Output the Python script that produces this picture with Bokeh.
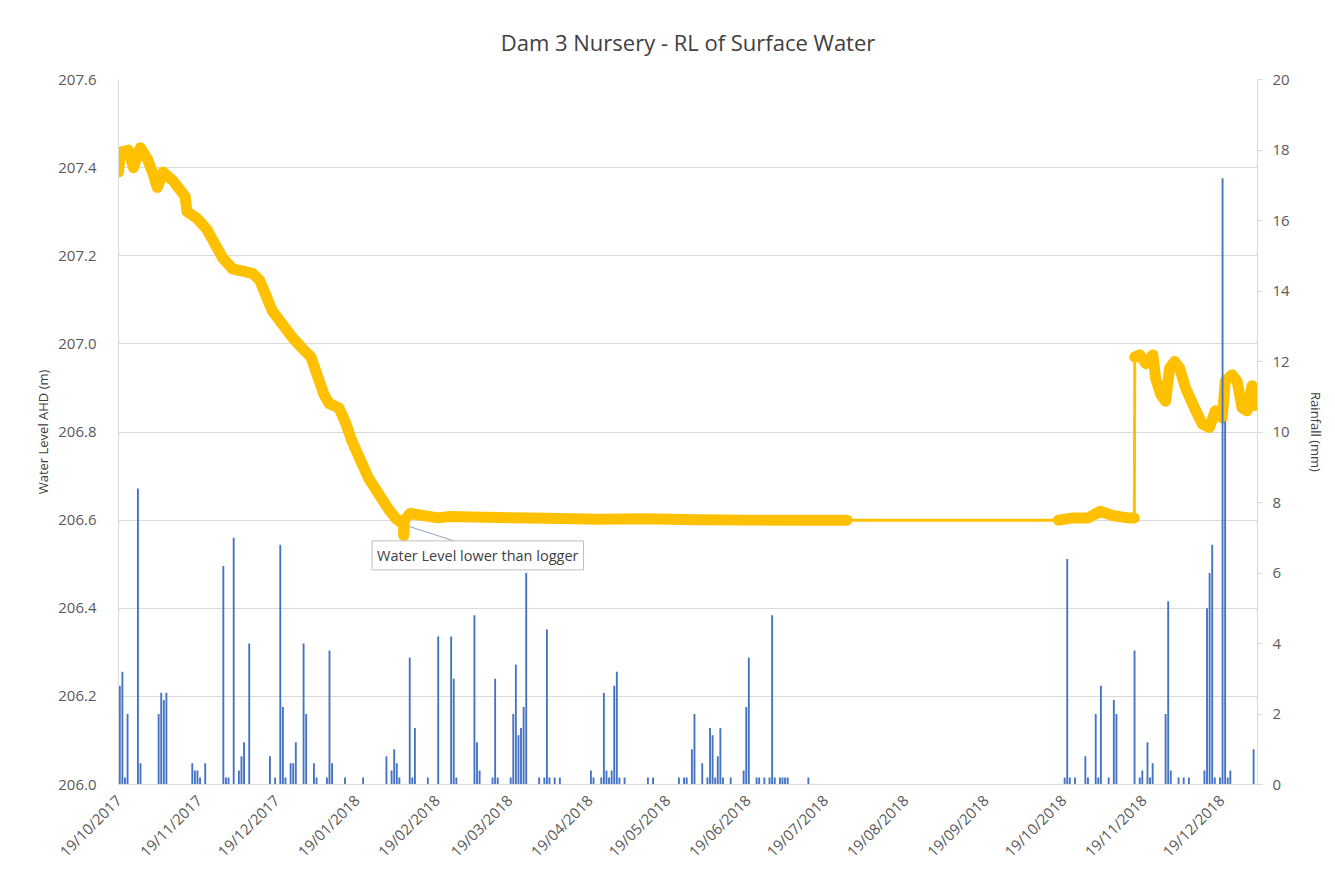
import math
import pandas as pd
from bokeh.plotting import figure
from bokeh.models import (Range1d, LinearAxis, FixedTicker, DatetimeTickFormatter,
                          NumeralTickFormatter, Label)
from bokeh.embed import file_html
from bokeh.resources import INLINE

TITLE = "Dam 3 Nursery - RL of Surface Water"
LEFT_LABEL = "Water Level AHD (m)"
RIGHT_LABEL = "Rainfall (mm)"
NOTE = "Water Level lower than logger"

# ---- water level (logger readings) ----
level_times = [
    "2017-10-19 00:00", "2017-10-19 18:00", "2017-10-22 20:00", "2017-10-24 18:00",
    "2017-10-27 10:00", "2017-10-30 03:00", "2017-11-01 10:00", "2017-11-02 23:00",
    "2017-11-05 06:00", "2017-11-09 02:00", "2017-11-13 17:00", "2017-11-14 11:00",
    "2017-11-18 07:00", "2017-11-22 03:00", "2017-11-28 06:00", "2017-12-02 02:00",
    "2017-12-09 18:00", "2017-12-12 11:00", "2017-12-17 10:00", "2017-12-21 06:00",
    "2017-12-25 02:00", "2017-12-28 23:00", "2018-01-01 09:00", "2018-01-03 17:00",
    "2018-01-06 09:00", "2018-01-08 07:00", "2018-01-12 03:00", "2018-01-14 19:00",
    "2018-01-17 03:00", "2018-01-20 13:00", "2018-01-23 15:00", "2018-01-27 11:00",
    "2018-01-31 07:00", "2018-02-02 23:00", "2018-02-06 01:00", "2018-02-06 05:00",
    "2018-02-06 10:00", "2018-02-08 17:00", "2018-02-19 11:00", "2018-02-23 07:00",
    "2018-03-14 11:00", "2018-04-02 15:00", "2018-04-21 20:00", "2018-05-11 00:00",
    "2018-05-30 04:00", "2018-06-18 08:00", "2018-07-07 12:00", "2018-07-27 11:00",
    "2018-10-17 03:00", "2018-10-22 21:00", "2018-10-28 15:00", "2018-11-02 05:00",
    "2018-11-07 05:00", "2018-11-12 23:00", "2018-11-15 10:00",
    "2018-11-15 14:00", "2018-11-17 13:00", "2018-11-19 21:00", "2018-11-22 13:00",
    "2018-11-23 17:00", "2018-11-25 15:00", "2018-11-27 12:00", "2018-11-29 01:00",
    "2018-11-30 23:00", "2018-12-02 21:00", "2018-12-05 05:00", "2018-12-08 15:00",
    "2018-12-11 17:00", "2018-12-14 10:00", "2018-12-16 17:00", "2018-12-19 09:00",
    "2018-12-20 13:00", "2018-12-23 05:00", "2018-12-25 03:00", "2018-12-27 01:00",
    "2018-12-28 23:00", "2018-12-30 21:00", "2019-01-01 10:00",
]
level_m = [
    207.39, 207.435, 207.44, 207.40,
    207.445, 207.42, 207.385, 207.355,
    207.39, 207.37, 207.335, 207.30,
    207.285, 207.26, 207.195, 207.17,
    207.16, 207.145, 207.075, 207.045,
    207.015, 206.99, 206.97, 206.93,
    206.885, 206.865, 206.855, 206.82,
    206.78, 206.735, 206.695, 206.66,
    206.625, 206.605, 206.59, 206.565,
    206.60, 206.615, 206.605, 206.608,
    206.606, 206.604, 206.602, 206.603,
    206.601, 206.600, 206.600, 206.600,
    206.600, 206.605, 206.605, 206.62,
    206.61, 206.605, 206.605,
    206.97, 206.975, 206.955, 206.975,
    206.92, 206.885, 206.87, 206.945,
    206.96, 206.945, 206.90, 206.855,
    206.818, 206.81, 206.848, 206.832,
    206.915, 206.93, 206.915, 206.855,
    206.848, 206.905, 206.86,
]
# logger run each reading belongs to (gaps between runs are drawn thin)
level_run = [1] * 48 + [2] * 7 + [3] * 23

# ---- daily rainfall ----
rain_dates = [
    "2017-10-19", "2017-10-20", "2017-10-21", "2017-10-22", "2017-10-26", "2017-10-27",
    "2017-11-03", "2017-11-04", "2017-11-05", "2017-11-06", "2017-11-16", "2017-11-17",
    "2017-11-18", "2017-11-19", "2017-11-21", "2017-11-28", "2017-11-29", "2017-11-30",
    "2017-12-02", "2017-12-04", "2017-12-05", "2017-12-06", "2017-12-08", "2017-12-16",
    "2017-12-18", "2017-12-20", "2017-12-21", "2017-12-22", "2017-12-24", "2017-12-25",
    "2017-12-26", "2017-12-29", "2017-12-30", "2018-01-02", "2018-01-03", "2018-01-07",
    "2018-01-08", "2018-01-09", "2018-01-14", "2018-01-21", "2018-01-30", "2018-02-01",
    "2018-02-02", "2018-02-03", "2018-02-04", "2018-02-08", "2018-02-09", "2018-02-10",
    "2018-02-15", "2018-02-19", "2018-02-24", "2018-02-25", "2018-02-26", "2018-03-05",
    "2018-03-06", "2018-03-07", "2018-03-12", "2018-03-13", "2018-03-14", "2018-03-19",
    "2018-03-20", "2018-03-21", "2018-03-22", "2018-03-23", "2018-03-24", "2018-03-25",
    "2018-03-30", "2018-04-01", "2018-04-02", "2018-04-03", "2018-04-05", "2018-04-07",
    "2018-04-19", "2018-04-20", "2018-04-23", "2018-04-24", "2018-04-25", "2018-04-26",
    "2018-04-27", "2018-04-28", "2018-04-29", "2018-04-30", "2018-05-02", "2018-05-11",
    "2018-05-13", "2018-05-23", "2018-05-25", "2018-05-26", "2018-05-28", "2018-05-29",
    "2018-06-01", "2018-06-03", "2018-06-04", "2018-06-05", "2018-06-06", "2018-06-07",
    "2018-06-08", "2018-06-09", "2018-06-12", "2018-06-17", "2018-06-18", "2018-06-19",
    "2018-06-22", "2018-06-23", "2018-06-25", "2018-06-27", "2018-06-28", "2018-06-29",
    "2018-07-01", "2018-07-02", "2018-07-03", "2018-07-04", "2018-07-12",
    "2018-10-19", "2018-10-20", "2018-10-21", "2018-10-23", "2018-10-27", "2018-10-28",
    "2018-10-31", "2018-11-01", "2018-11-02", "2018-11-05", "2018-11-07", "2018-11-08",
    "2018-11-15", "2018-11-17", "2018-11-18", "2018-11-20", "2018-11-21", "2018-11-22",
    "2018-11-27", "2018-11-28", "2018-11-29", "2018-12-02", "2018-12-04", "2018-12-06",
    "2018-12-12", "2018-12-13", "2018-12-14", "2018-12-15", "2018-12-16", "2018-12-18",
    "2018-12-19", "2018-12-20", "2018-12-21", "2018-12-22", "2018-12-31",
]
rain_mm = [
    2.8, 3.2, 0.2, 2.0, 8.4, 0.6,
    2.0, 2.6, 2.4, 2.6, 0.6, 0.4,
    0.4, 0.2, 0.6, 6.2, 0.2, 0.2,
    7.0, 0.4, 0.8, 1.2, 4.0, 0.8,
    0.2, 6.8, 2.2, 0.2, 0.6, 0.6,
    1.2, 4.0, 2.0, 0.6, 0.2, 0.2,
    3.8, 0.6, 0.2, 0.2, 0.8, 0.4,
    1.0, 0.6, 0.2, 3.6, 0.2, 1.6,
    0.2, 4.2, 4.2, 3.0, 0.2, 4.8,
    1.2, 0.4, 0.2, 3.0, 0.2, 0.2,
    2.0, 3.4, 1.4, 1.6, 2.2, 6.0,
    0.2, 0.2, 4.4, 0.2, 0.2, 0.2,
    0.4, 0.2, 0.2, 2.6, 0.4, 0.2,
    0.4, 2.8, 3.2, 0.2, 0.2, 0.2,
    0.2, 0.2, 0.2, 0.2, 1.0, 2.0,
    0.6, 0.2, 1.6, 1.4, 0.2, 0.8,
    1.6, 0.2, 0.2, 0.4, 2.2, 3.6,
    0.2, 0.2, 0.2, 0.2, 4.8, 0.2,
    0.2, 0.2, 0.2, 0.2, 0.2,
    0.2, 6.4, 0.2, 0.2, 0.8, 0.2,
    2.0, 0.2, 2.8, 0.2, 2.4, 2.0,
    3.8, 0.2, 0.4, 1.2, 0.2, 0.6,
    2.0, 5.2, 0.4, 0.2, 0.2, 0.2,
    0.4, 5.0, 6.0, 6.8, 0.2, 0.2,
    17.2, 10.3, 0.2, 0.4, 1.0,
]

x_tick_dates = [
    "2017-10-19", "2017-11-19", "2017-12-19", "2018-01-19", "2018-02-19",
    "2018-03-19", "2018-04-19", "2018-05-19", "2018-06-19", "2018-07-19",
    "2018-08-19", "2018-09-19", "2018-10-19", "2018-11-19", "2018-12-19",
]
level_ticks = [206.0, 206.2, 206.4, 206.6, 206.8, 207.0, 207.2, 207.4, 207.6]
rain_ticks = [0, 2, 4, 6, 8, 10, 12, 14, 16, 18, 20]

X_START = "2017-10-19"
X_END = "2019-01-02"

# note callout placement
note_anchor = ("2018-02-06 01:00", 206.59)
note_box_edge = ("2018-02-27 03:00", 206.55)
note_center = ("2018-03-06 19:00", 206.52)

FONT = "Open Sans"
GOLD = "#FFC000"
BLUE = "#4472C4"
GRID = "#D9D9D9"
TXT = "#595959"


def ms(s):
    return pd.Timestamp(s).value / 1e6


lt = pd.to_datetime(level_times)
rd = pd.to_datetime(rain_dates) + pd.Timedelta(hours=12)

p = figure(
    width=1327, height=870,
    x_axis_type="datetime",
    x_range=Range1d(pd.Timestamp(X_START), pd.Timestamp(X_END)),
    y_range=Range1d(206.0, 207.6),
    output_backend="svg", toolbar_location=None,
    min_border_left=118, min_border_right=61, min_border_top=79, min_border_bottom=86,
)
p.extra_y_ranges = {"rain": Range1d(0, 20)}

p.title.text = TITLE
p.title.align = "center"
p.title.text_font = FONT
p.title.text_font_size = "22px"
p.title.text_font_style = "normal"
p.title.text_color = "#404040"
p.title.offset = -16
p.title.standoff = 45

p.outline_line_color = None
p.background_fill_color = "white"
p.border_fill_color = "white"
p.xgrid.grid_line_color = None
p.ygrid.grid_line_color = GRID
p.ygrid.ticker = FixedTicker(ticks=level_ticks)

# left axis
ya = p.yaxis[0]
ya.ticker = FixedTicker(ticks=level_ticks)
ya.formatter = NumeralTickFormatter(format="0.0")
ya.axis_label = LEFT_LABEL
ya.axis_line_color = GRID
ya.major_tick_line_color = None
ya.minor_tick_line_color = None
ya.major_label_standoff = 16
ya.axis_label_standoff = 3

# right axis
ra = LinearAxis(y_range_name="rain", ticker=FixedTicker(ticks=rain_ticks), axis_label=RIGHT_LABEL)
ra.axis_line_color = GRID
ra.major_tick_line_color = GRID
ra.major_tick_out = 5
ra.major_tick_in = 0
ra.minor_tick_line_color = None
ra.major_label_standoff = 10
ra.axis_label_standoff = 14
p.add_layout(ra, "right")

# bottom axis
xa = p.xaxis[0]
xa.ticker = FixedTicker(ticks=[ms(d) for d in x_tick_dates])
fmt = "%d/%m/%Y"
xa.formatter = DatetimeTickFormatter(
    microseconds=fmt, milliseconds=fmt, seconds=fmt, minsec=fmt, minutes=fmt,
    hourmin=fmt, hours=fmt, days=fmt, months=fmt, years=fmt)
xa.major_label_orientation = math.pi / 4
xa.axis_line_color = GRID
xa.major_tick_line_color = None
xa.minor_tick_line_color = None
xa.major_label_standoff = 7

for ax in (ya, ra, xa):
    ax.major_label_text_font = FONT
    ax.major_label_text_font_size = "15px"
    ax.major_label_text_color = TXT
    ax.axis_label_text_font = FONT
    ax.axis_label_text_font_size = "13px"
    ax.axis_label_text_font_style = "normal"
    ax.axis_label_text_color = "#404040"

# callout leader line
p.segment(x0=[pd.Timestamp(note_anchor[0])], y0=[note_anchor[1]],
          x1=[pd.Timestamp(note_box_edge[0])], y1=[note_box_edge[1]],
          line_color="#8EA4CC", line_width=1)

# water level: thin line through everything, thick where the logger recorded densely
p.line(lt, level_m, line_color=GOLD, line_width=3)
df = pd.DataFrame({"t": lt, "v": level_m, "run": level_run})
for run_id, grp in df.groupby("run"):
    p.line(grp["t"], grp["v"], line_color=GOLD, line_width=11,
           line_join="round", line_cap="round")

# rainfall bars on secondary axis
p.vbar(x=rd, top=rain_mm, bottom=0, width=0.72 * 86400000,
       y_range_name="rain", fill_color=BLUE, line_color=None)

note = Label(x=pd.Timestamp(note_center[0]), y=note_center[1], text=NOTE,
             text_align="center", text_baseline="middle",
             text_font=FONT, text_font_size="14.5px", text_color="#404040",
             background_fill_color="white", border_line_color="#BFBFBF",
             border_line_width=1, padding=5)
p.add_layout(note)

open("out.html", "w").write(file_html(p, INLINE))
